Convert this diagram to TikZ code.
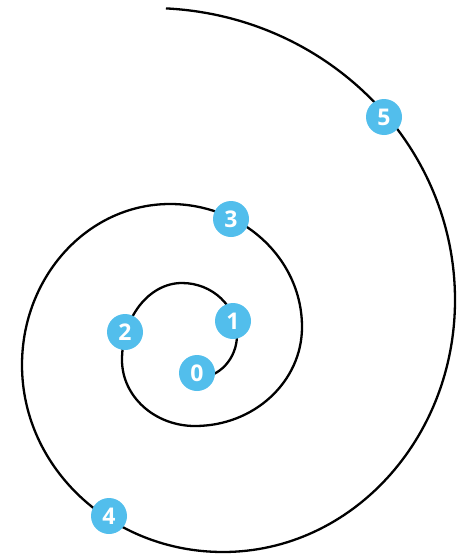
\documentclass[tikz,border=0pt]{standalone}
\usepackage{fontspec}
\setsansfont{Open Sans}
\definecolor{dotblue}{RGB}{82,190,236}
\begin{document}
\begin{tikzpicture}[x=1pt,y=1pt,
  num/.style={circle,fill=dotblue,minimum size=36pt,inner sep=0pt,text=white,font=\sffamily\bfseries\fontsize{23}{23}\selectfont},
  spiral/.style={line width=2.3pt,black}]
\useasboundingbox (0,0) rectangle (462,-554);
\draw[spiral] (197,-378)
  arc[start angle=270,end angle=360,x radius=40,y radius=43]
  arc[start angle=0,end angle=90,x radius=55,y radius=52]
  arc[start angle=90,end angle=180,x radius=60,y radius=77]
  arc[start angle=180,end angle=270,x radius=73,y radius=66]
  arc[start angle=270,end angle=360,x radius=107,y radius=99]
  arc[start angle=0,end angle=90,x radius=132,y radius=123]
  arc[start angle=90,end angle=180,x radius=148,y radius=161]
  arc[start angle=180,end angle=270,x radius=201,y radius=187]
  arc[start angle=270,end angle=360,x radius=232,y radius=252]
  arc[start angle=0,end angle=87,x radius=305,y radius=292];
\node[num] (n0) at (197,-373) {0};
\node[num] (n1) at (233,-321) {1};
\node[num] (n2) at (125,-332) {2};
\node[num] (n3) at (231,-219) {3};
\node[num] (n4) at (109,-516) {4};
\node[num] (n5) at (384,-117) {5};
\end{tikzpicture}
\end{document}
